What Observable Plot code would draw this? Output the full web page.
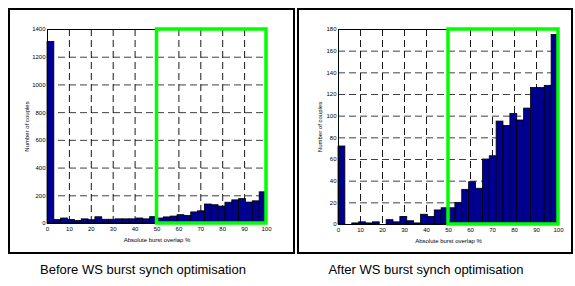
<!DOCTYPE html>
<html><head><meta charset="utf-8">
<script src="https://cdn.jsdelivr.net/npm/d3@7"></script>
<script src="https://cdn.jsdelivr.net/npm/@observablehq/plot@0.6"></script>
<style>
body{margin:0;background:#fff;font-family:Arial,"Liberation Sans",sans-serif;}
#page{position:relative;width:575px;height:286px;overflow:hidden;background:#fff}
.box{position:absolute;border:2px solid #000;box-sizing:border-box}
.panel{position:absolute;top:0}
.cap{position:absolute;font-size:13px;text-align:center;white-space:nowrap;color:#000;line-height:15px}
</style></head><body><div id="page"></div>
<script>
// histogram bin starts (%), bin width 3.125
const binStarts = [0, 3.125, 6.25, 9.375, 12.5, 15.625, 18.75, 21.875, 25, 28.125, 31.25, 34.375, 37.5, 40.625, 43.75, 46.875,
  50, 53.125, 56.25, 59.375, 62.5, 65.625, 68.75, 71.875, 75, 78.125, 81.25, 84.375, 87.5, 90.625, 93.75, 96.875];
const binWidth = 3.125;
const beforeCounts = [1310, 25, 36, 26, 18, 30, 24, 45, 27, 27, 30, 30, 30, 36, 30, 46,
  36, 44, 50, 60, 55, 80, 88, 137, 132, 122, 150, 167, 176, 151, 160, 225];
const afterCounts = [72, 0, 1, 2, 1, 2, 0, 4, 2, 7, 3, 1, 9, 7, 13, 15,
  15, 20, 32, 39, 33, 60, 63, 95, 91, 102, 96, 107, 126, 126, 128, 175];
const xTicks = [0, 10, 20, 30, 40, 50, 60, 70, 80, 90, 100];
const beforeYTicks = [0, 200, 400, 600, 800, 1000, 1200, 1400];
const afterYTicks = [0, 20, 40, 60, 80, 100, 120, 140, 160, 180];
const highlight = [50, 100];
const xLabel = "Absolute burst overlap %";
const yLabel = "Number of couples";
const captions = ["Before WS burst synch optimisation", "After WS burst synch optimisation"];

function panel(counts, yTicks, opts) {
  const yMax = yTicks[yTicks.length - 1];
  const data = binStarts.map((s, i) => ({x1: s, x2: s + binWidth, count: counts[i]}));
  const inner = (a) => a.slice(1, -1);
  return Plot.plot({
    width: opts.width, height: opts.height,
    marginLeft: opts.ml, marginRight: opts.mr, marginTop: opts.mt, marginBottom: opts.mb,
    style: {fontSize: "6px", fontFamily: "Arial, 'Liberation Sans', sans-serif", background: "transparent", overflow: "visible"},
    x: {domain: [0, 100]},
    y: {domain: [0, yMax]},
    marks: [
      Plot.gridX(inner(xTicks), {stroke: "#000", strokeOpacity: 0.9, strokeDasharray: "7,4"}),
      Plot.gridY(inner(yTicks), {stroke: "#000", strokeOpacity: 0.75, strokeDasharray: "7,4"}),
      Plot.rectY(data, {x1: "x1", x2: "x2", y: "count", fill: "#000090", stroke: "#000", strokeWidth: 0.8}),
      Plot.frame({stroke: "#000", strokeWidth: 1}),
      Plot.rect([{x1: highlight[0], x2: highlight[1], y1: 0, y2: yMax}],
        {x1: "x1", x2: "x2", y1: "y1", y2: "y2", fill: "none", stroke: "#00ff00", strokeWidth: 3.5}),
      Plot.axisX(xTicks, {tickSize: 0, tickPadding: 3, tickFormat: (d) => String(d), label: xLabel, labelAnchor: "center", labelArrow: "none", labelOffset: 18, fill: "#000"}),
      Plot.axisY(yTicks, {tickSize: 0, tickPadding: 2, tickFormat: (d) => String(d), label: yLabel, labelAnchor: "center", labelArrow: "none", labelOffset: opts.lo, fill: "#000"})
    ]
  });
}

const page = document.getElementById("page");
function addBox(l, t, w, h) {
  const d = document.createElement("div");
  d.className = "box";
  Object.assign(d.style, {left: l + "px", top: t + "px", width: w + "px", height: h + "px"});
  page.appendChild(d);
}
addBox(8, 8, 287, 246);
addBox(297, 8, 276, 246);

const p1 = panel(beforeCounts, beforeYTicks, {width: 295, height: 250, ml: 47, mr: 29, mt: 29, mb: 27, lo: 23});
p1.classList.add("panel"); p1.style.left = "0px";
page.appendChild(p1);
const p2 = panel(afterCounts, afterYTicks, {width: 280, height: 250, ml: 43, mr: 17, mt: 29, mb: 26, lo: 21});
p2.classList.add("panel"); p2.style.left = "295px";
page.appendChild(p2);

[[143, captions[0]], [426, captions[1]]].forEach(([cx, t]) => {
  const c = document.createElement("div");
  c.className = "cap";
  c.textContent = t;
  Object.assign(c.style, {left: (cx - 150) + "px", width: "300px", top: "262px"});
  page.appendChild(c);
});
</script></body></html>
